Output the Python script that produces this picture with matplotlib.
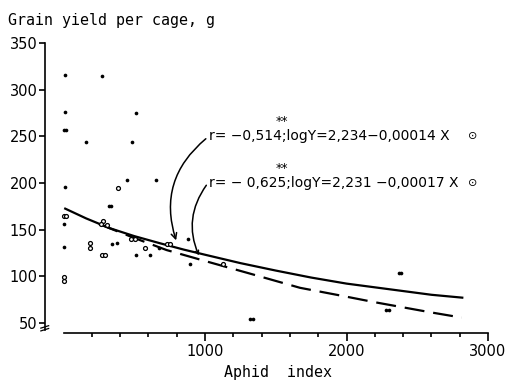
import matplotlib
matplotlib.use("Agg")
import matplotlib.pyplot as plt

# ---- data ----
filled_x = [10, 274, 8, 510, 2, 20, 161, 486, 8, 451, 654, 4, 4, 340, 376,
            512, 611, 882, 894, 2368, 2388, 2278, 2298, 1320, 1340, 320, 338, 677]
filled_y = [316, 315, 276, 275.5, 257, 257, 244, 244, 195.4, 203, 203, 155.6, 131,
            135, 135.3, 123, 123, 140, 113, 103, 103, 63.6, 63.6, 53.7, 53.7,
            175.6, 175.6, 130.5]
open_x = [387, 2, 18, 187, 187, 4, 4, 281, 263, 305, 270, 295, 475, 505, 576,
          733, 750, 1125]
open_y = [194.6, 165, 165, 130, 136, 95, 99, 159.2, 155.6, 155, 123, 123, 139.6,
          139.6, 130, 135, 135, 113]

# regression curves as drawn
solid_x = [5, 160, 329, 500, 682, 850, 1000, 1250, 1500, 1750, 2000, 2200, 2400, 2600, 2826]
solid_y = [173, 162, 151.4, 143, 135.3, 128.5, 123, 114, 106, 98.5, 92, 88, 84, 80, 76.8]
dash_x = [250, 500, 729, 1030, 1300, 1671, 1954, 2200, 2400, 2600, 2814]
dash_y = [156, 141, 128, 115, 103.5, 87.5, 79.3, 72, 66.5, 61, 55.5]

x_ticks = [1000, 2000, 3000]
x_minor = list(range(200, 3000, 200))
y_ticks = [50, 100, 150, 200, 250, 300, 350]

eq1 = "r= \u22120,514;logY=2,234\u22120,00014 X"
eq2 = "r= \u2212 0,625;logY=2,231 \u22120,00017 X"

# ---- figure ----
W, H = 508, 383
fig = plt.figure(figsize=(W / 100, H / 100), dpi=100)

xlim = (-150, 3050)
ylim = (35, 355)
px_per_x = 141.5 / 1000
x0_px = 63.5
px_per_y = 46.57 / 50
y350_px = 43.3
left_px = x0_px + xlim[0] * px_per_x
right_px = x0_px + xlim[1] * px_per_x
top_px = y350_px - (ylim[1] - 350) * px_per_y
bot_px = y350_px + (350 - ylim[0]) * px_per_y
ax = fig.add_axes([left_px / W, 1 - bot_px / H, (right_px - left_px) / W, (bot_px - top_px) / H])
ax.set_xlim(*xlim)
ax.set_ylim(*ylim)
ax.patch.set_alpha(0)

for s in ["top", "right"]:
    ax.spines[s].set_visible(False)
ax.spines["left"].set_position(("data", -133))
ax.spines["left"].set_bounds(42, 350)
ax.spines["bottom"].set_position(("data", 39.3))
ax.spines["bottom"].set_bounds(0, 3000)
for s in ["left", "bottom"]:
    ax.spines[s].set_linewidth(1.2)

ax.set_xticks(x_ticks)
ax.set_xticklabels([str(t) for t in x_ticks])
ax.set_xticks(x_minor, minor=True)
ax.set_yticks(y_ticks)
ax.set_yticklabels([str(t) for t in y_ticks])
ax.tick_params(axis="x", which="major", length=6, width=1.2, direction="out",
               labelsize=10.5, pad=2)
ax.tick_params(axis="x", which="minor", length=3, width=1.2, direction="out")
ax.tick_params(axis="y", which="major", length=4, width=1.2, direction="out",
               labelsize=10.5, pad=1)

# axis break marks on y axis
for yy in (45.5, 42.5):
    ax.plot([-160, -105], [yy - 1.3, yy + 1.3], color="black", lw=0.9, clip_on=False)

# curves
ax.plot(solid_x, solid_y, color="black", lw=1.6, solid_capstyle="butt")
ax.plot(dash_x, dash_y, color="black", lw=1.6, dashes=(9, 4))

# points
ax.scatter(filled_x, filled_y, s=7, color="black", zorder=3, linewidths=0)
ax.scatter(open_x, open_y, s=8, facecolors="white", edgecolors="black",
           linewidths=0.9, zorder=3)

# annotations
fs_eq = 10
ax.text(1030, 250.4, eq1, fontsize=fs_eq, va="center", ha="left")
ax.text(1030, 200, eq2, fontsize=fs_eq, va="center", ha="left")
ax.text(1545, 266, "**", fontsize=9, va="center", ha="center")
ax.text(1545, 216, "**", fontsize=9, va="center", ha="center")
ax.text(2892, 250, "\u2299", fontsize=8, va="center", ha="center")
ax.text(2892, 200, "\u2299", fontsize=8, va="center", ha="center")

ax.annotate("", xy=(802, 135.6), xytext=(1021, 249.4),
            arrowprops=dict(arrowstyle="->", color="black", lw=1.1,
                            connectionstyle="arc3,rad=0.35", mutation_scale=10))
ax.annotate("", xy=(965, 119.5), xytext=(1021, 200),
            arrowprops=dict(arrowstyle="->", color="black", lw=1.1,
                            connectionstyle="arc3,rad=0.3", mutation_scale=6))

fig.text(8 / W, 1 - 21 / H, "Grain yield per cage, g", family="DejaVu Sans Mono",
         fontsize=10.8, va="center", ha="left")
fig.text(278 / W, 1 - 372 / H, "Aphid  index", family="DejaVu Sans Mono",
         fontsize=10.8, va="center", ha="center")

fig.savefig("out.png", dpi=100)
